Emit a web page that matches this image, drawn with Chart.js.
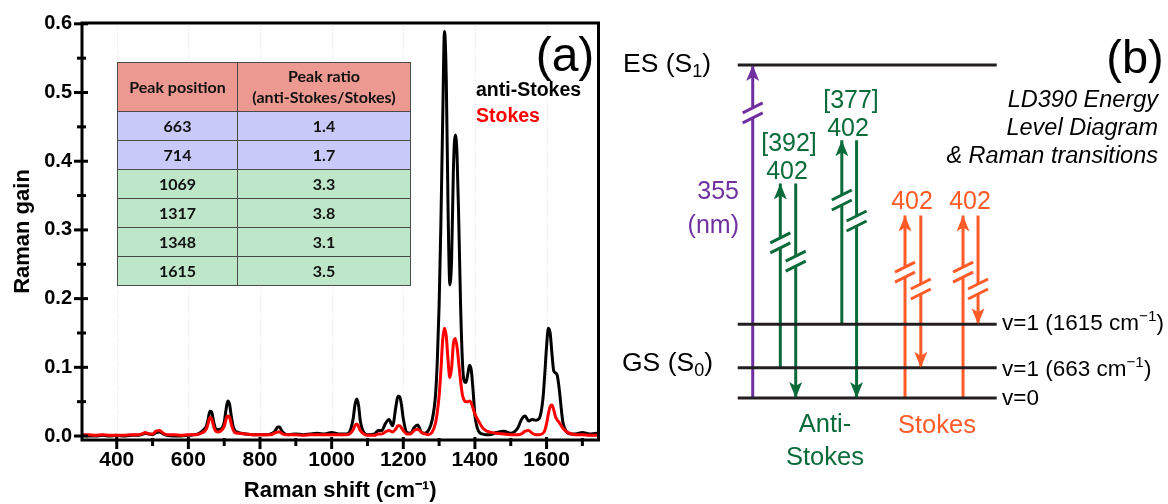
<!DOCTYPE html>
<html><head><meta charset="utf-8">
<script src="https://cdn.jsdelivr.net/npm/chart.js@4.4.1/dist/chart.umd.min.js"></script>
<style>
html,body{margin:0;padding:0;background:#fff;}
#wrap{position:relative;width:1168px;height:504px;overflow:hidden;font-family:"Liberation Sans",Arial,sans-serif;}
canvas{position:absolute;top:0;}
#ca{left:0;}
#cb{left:600px;}
.t{position:absolute;white-space:nowrap;line-height:1;}
.c{transform:translate(-50%,-50%);}
.l{transform:translate(0,-50%);}
.r{transform:translate(-100%,-50%);}
sub{font-size:0.68em;vertical-align:-0.28em;line-height:0;}
sup{font-size:0.68em;vertical-align:0.55em;line-height:0;}
#tbl{position:absolute;left:117px;top:62px;border-collapse:collapse;table-layout:fixed;width:293px;
  font-family:Lato,"Open Sans",sans-serif;font-weight:bold;font-size:16px;color:#111;}
#tbl td{border:1.5px solid #4a4a4a;text-align:center;padding:0;line-height:1.3;}
#tbl tr.h td{background:#EC9991;height:48px;}
#tbl tr.b td{background:#C9C9FA;height:28px;}
#tbl tr.g td{background:#BEE6C9;height:28px;}
.pur{color:#7030A0;} .grn{color:#0A6B3A;} .org{color:#FF5B29;}
</style>
</head><body>
<div id="wrap">
<canvas id="ca" width="610" height="504"></canvas>
<canvas id="cb" width="568" height="504"></canvas>
<table id="tbl"></table>
<div class="t c" style="left:565px;top:55px;font-size:48px;">(a)</div>
<div class="t l" id="lgA" style="left:476px;top:90px;font-size:19.5px;font-weight:bold;"></div>
<div class="t l" id="lgS" style="left:476px;top:116px;font-size:19.5px;font-weight:bold;"></div>

<div class="t l" style="left:623px;top:63px;font-size:26.5px;">ES (S<sub>1</sub>)</div>
<div class="t l" style="left:622px;top:362px;font-size:26.5px;">GS (S<sub>0</sub>)</div>
<div class="t r pur" style="left:739px;top:190px;font-size:25px;">355</div>
<div class="t r pur" style="left:739px;top:224px;font-size:25px;">(nm)</div>
<div class="t c grn" style="left:789px;top:142px;font-size:25px;">[392]</div>
<div class="t c grn" style="left:787px;top:170px;font-size:25px;">402</div>
<div class="t c grn" style="left:851px;top:99px;font-size:25px;">[377]</div>
<div class="t c grn" style="left:848px;top:127px;font-size:25px;">402</div>
<div class="t c org" style="left:912px;top:200px;font-size:25px;">402</div>
<div class="t c org" style="left:970px;top:200px;font-size:25px;">402</div>
<div class="t c grn" style="left:825px;top:424px;font-size:25.5px;">Anti-</div>
<div class="t c grn" style="left:825px;top:457px;font-size:25.5px;">Stokes</div>
<div class="t c org" style="left:937px;top:425px;font-size:25.5px;">Stokes</div>
<div class="t l" style="left:1002px;top:323px;font-size:22.5px;">v=1 (1615 cm<sup>&minus;1</sup>)</div>
<div class="t l" style="left:1002px;top:369px;font-size:22.5px;">v=1 (663 cm<sup>&minus;1</sup>)</div>
<div class="t l" style="left:1002px;top:398px;font-size:22.5px;">v=0</div>
<div class="t c" style="left:1135px;top:56px;font-size:47px;">(b)</div>
<div class="t r" style="left:1158px;top:100px;font-size:23.5px;font-style:italic;">LD390 Energy</div>
<div class="t r" style="left:1158px;top:128px;font-size:23.5px;font-style:italic;">Level Diagram</div>
<div class="t r" style="left:1158px;top:156px;font-size:23.5px;font-style:italic;">&amp; Raman transitions</div>
</div>
<script>
// ---------- Panel (a) data ----------
const ramanShift = [
 300,320,340,360,380,400,420,440,460,470,
 480,490,500,510,520,530,540,560,580,600,
 620,630,640,650,655,660,665,670,675,680,
 690,700,705,710,715,720,725,730,740,760,
 780,800,820,830,840,850,855,860,870,880,
 900,920,940,960,980,1000,1020,1040,1050,1060,
 1065,1070,1075,1080,1090,1100,1120,1130,1140,1150,
 1160,1170,1180,1185,1190,1195,1200,1210,1220,1230,
 1240,1250,1260,1270,1280,1290,1295,1300,1305,1310,
 1315,1320,1325,1330,1335,1340,1345,1350,1355,1360,
 1365,1370,1375,1380,1385,1390,1395,1400,1410,1420,
 1430,1440,1460,1480,1500,1510,1520,1530,1540,1550,
 1560,1570,1580,1590,1595,1600,1605,1610,1615,1620,
 1625,1630,1635,1640,1645,1650,1660,1670,1680,1700,
 1720,1740,1750];
const antiStokes = [
 .001,.000,.000,.001,.000,.001,.000,.001,.001,.002,
 .004,.003,.002,.005,.006,.003,.001,.000,.000,.001,
 .002,.004,.008,.014,.024,.036,.035,.022,.012,.009,
 .010,.020,.038,.051,.046,.028,.014,.008,.005,.003,
 .002,.002,.002,.003,.006,.013,.013,.008,.003,.002,
 .003,.002,.003,.004,.003,.005,.003,.003,.006,.025,
 .045,.054,.045,.022,.005,.002,.003,.008,.008,.018,
 .024,.015,.045,.058,.057,.045,.025,.005,.004,.012,
 .016,.006,.004,.008,.022,.060,.110,.190,.310,.460,
 .589,.520,.330,.220,.260,.390,.438,.410,.310,.190,
 .110,.080,.078,.090,.103,.095,.065,.030,.007,.003,
 .002,.002,.005,.007,.004,.006,.012,.024,.029,.022,
 .024,.023,.026,.055,.090,.130,.157,.150,.120,.095,
 .092,.088,.070,.045,.022,.012,.004,.003,.003,.005,
 .003,.004,.003];
const stokes = [
 .002,.002,.001,.002,.001,.001,.001,.002,.002,.003,
 .005,.003,.003,.007,.008,.004,.002,.002,.001,.002,
 .002,.003,.005,.010,.018,.027,.025,.015,.008,.006,
 .007,.014,.024,.029,.027,.017,.009,.005,.004,.003,
 .002,.002,.002,.002,.004,.006,.006,.004,.002,.002,
 .002,.001,.002,.002,.002,.002,.002,.002,.003,.009,
 .015,.0175,.014,.008,.003,.001,.001,.003,.003,.006,
 .008,.006,.011,.015,.015,.012,.008,.003,.003,.008,
 .010,.006,.003,.002,.005,.019,.035,.058,.095,.140,
 .157,.145,.110,.085,.100,.135,.142,.130,.105,.080,
 .060,.052,.050,.050,.051,.048,.040,.032,.022,.013,
 .008,.006,.004,.003,.002,.002,.002,.003,.007,.008,
 .004,.002,.002,.004,.008,.018,.032,.043,.045,.038,
 .028,.023,.020,.016,.012,.009,.005,.003,.002,.002,
 .001,.001,.001];
const xTickValues = [400,600,800,1000,1200,1400,1600];
const xMinorTicks = [500,700,900,1100,1300,1500,1700];
const yTickValues = [0,0.1,0.2,0.3,0.4,0.5,0.6];
const yMinorTicks = [0.05,0.15,0.25,0.35,0.45,0.55];
const seriesNames = ['anti-Stokes','Stokes'];
const seriesColors = ['#000000','#FF0000'];
// inset table
const tableHeader = ['Peak position','Peak ratio<br>(anti-Stokes/Stokes)'];
const peakPositions = ['663','714','1069','1317','1348','1615'];
const peakRatios = ['1.4','1.7','3.3','3.8','3.1','3.5'];
const peakGroup = ['b','b','g','g','g','g'];

// ---------- Panel (b) data (schematic energies, cm-1; ES axis broken) ----------
const levelEnergy = [7300,1615,663,0];
const levelSpan = [0,10];
const transX    = [0.58,1.645,2.24,4.02,4.59,6.46,7.07,8.70,9.28];
const transFrom = [0,663,4700,1615,5650,0,4000,0,4000];
const transTo   = [7300,4700,0,5650,0,4000,663,4000,1615];
const transBreak= [6250,3400,3000,4340,3880,2760,2390,2760,2390];
const transType = ['pump','aS','aS','aS','aS','S','S','S','S'];
const typeColor = {pump:'#7030A0', aS:'#0A6B3A', S:'#FF5B29'};

Chart.defaults.font.family = '"Liberation Sans", Arial, sans-serif';
Chart.defaults.color = '#000';

// table
(function(){
  const t = document.getElementById('tbl');
  let h = '<colgroup><col style="width:120px"><col style="width:173px"></colgroup>';
  h += '<tr class="h"><td>'+tableHeader[0]+'</td><td>'+tableHeader[1]+'</td></tr>';
  peakPositions.forEach((p,i)=>{ h += '<tr class="'+peakGroup[i]+'"><td>'+p+'</td><td>'+peakRatios[i]+'</td></tr>'; });
  t.innerHTML = h;
  const a = document.getElementById('lgA'); a.textContent = seriesNames[0]; a.style.color = seriesColors[0];
  const s = document.getElementById('lgS'); s.textContent = seriesNames[1]; s.style.color = seriesColors[1];
})();

const frameTicks = {
  id:'frameTicks',
  beforeDatasetsDraw(chart){
    const {ctx, chartArea:{top,bottom}, scales:{x}} = chart;
    ctx.save(); ctx.strokeStyle='#dedede'; ctx.lineWidth=1; ctx.setLineDash([1,2]);
    xTickValues.forEach(v=>{const px=Math.round(x.getPixelForValue(v))+0.5; ctx.beginPath(); ctx.moveTo(px,top); ctx.lineTo(px,bottom); ctx.stroke();});
    ctx.restore();
  },
  afterDraw(chart){
    const {ctx, chartArea:{left,right,top,bottom}, scales:{x,y}} = chart;
    ctx.save();
    ctx.strokeStyle='#000'; ctx.lineWidth=3; ctx.lineCap='butt';
    ctx.strokeRect(left,top,right-left,bottom-top);
    const seg=(x1,y1,x2,y2)=>{ctx.beginPath();ctx.moveTo(x1,y1);ctx.lineTo(x2,y2);ctx.stroke();};
    yTickValues.forEach(v=>{const p=y.getPixelForValue(v); seg(left-8,p,left+6,p);});
    yMinorTicks.forEach(v=>{const p=y.getPixelForValue(v); seg(left-5,p,left+4,p);});
    xTickValues.forEach(v=>{const p=x.getPixelForValue(v); seg(p,bottom-3,p,bottom+9);});
    xMinorTicks.forEach(v=>{const p=x.getPixelForValue(v); if(p<right) seg(p,bottom-2,p,bottom+6);});
    ctx.restore();
  }
};

new Chart(document.getElementById('ca'), {
  type:'line',
  data:{datasets:[
    {label:seriesNames[1], data:ramanShift.map((v,i)=>({x:v,y:stokes[i]})), borderColor:seriesColors[1], borderWidth:3, pointRadius:0, cubicInterpolationMode:'monotone', order:0},
    {label:seriesNames[0], data:ramanShift.map((v,i)=>({x:v,y:antiStokes[i]})), borderColor:seriesColors[0], borderWidth:3, pointRadius:0, cubicInterpolationMode:'monotone', order:1}
  ]},
  options:{
    responsive:false, animation:false, devicePixelRatio:1,
    layout:{padding:{top:23,right:11.5,bottom:0,left:0}},
    plugins:{legend:{display:false}, tooltip:{enabled:false}},
    scales:{
      x:{type:'linear', min:303, max:1745,
        afterBuildTicks:s=>{s.ticks = xTickValues.map(v=>({value:v}));},
        afterFit:s=>{s.height=64;},
        grid:{display:false, drawTicks:false}, border:{display:false},
        ticks:{font:{size:21,weight:'bold'}, padding:8, maxRotation:0, color:'#000', callback:v=>String(v)},
        title:{display:true, text:'Raman shift (cm\u207B\u00B9)', font:{size:22,weight:'bold'}, padding:{top:0,bottom:0}, color:'#000'}
      },
      y:{type:'linear', min:-0.0058, max:0.6012,
        afterBuildTicks:s=>{s.ticks = yTickValues.map(v=>({value:v}));},
        afterFit:s=>{s.width=82;},
        grid:{display:false, drawTicks:false}, border:{display:false},
        ticks:{font:{size:20,weight:'bold'}, padding:10, color:'#000', callback:v=>Number(v).toFixed(1)},
        title:{display:true, text:'Raman gain', font:{size:22,weight:'bold'}, padding:{top:10,bottom:0}, color:'#000'}
      }
    }
  },
  plugins:[frameTicks]
});

// ---------- Panel (b) ----------
const g = 110; // half gap at breaks (energy units)
const levelSets = levelEnergy.map(e=>({
  data:[{x:levelSpan[0],y:e},{x:levelSpan[1],y:e}], showLine:true, borderColor:'#231F20', borderWidth:3, pointRadius:0, clip:false
}));
const transSets = transX.map((xv,i)=>{
  const dir = transTo[i] > transFrom[i] ? 1 : -1;
  return {data:[{x:xv,y:transFrom[i]},{x:xv,y:transBreak[i]-dir*g},{x:xv,y:null},{x:xv,y:transBreak[i]+dir*g},{x:xv,y:transTo[i]}],
    showLine:true, spanGaps:false, borderColor:typeColor[transType[i]], borderWidth:3, pointRadius:0, clip:false};
});
const arrowDeco = {
  id:'arrowDeco',
  afterDatasetsDraw(chart){
    const {ctx, scales:{x,y}} = chart;
    ctx.save();
    transX.forEach((xv,i)=>{
      const col = typeColor[transType[i]];
      const px = x.getPixelForValue(xv);
      const pt = y.getPixelForValue(transTo[i]);
      const up = transTo[i] > transFrom[i];
      const d = up ? 1 : -1;
      ctx.fillStyle = col;
      ctx.beginPath();
      ctx.moveTo(px, pt);
      ctx.lineTo(px-6.5, pt + d*16);
      ctx.lineTo(px, pt + d*12);
      ctx.lineTo(px+6.5, pt + d*16);
      ctx.closePath(); ctx.fill();
      const pb = y.getPixelForValue(transBreak[i]);
      ctx.strokeStyle = col; ctx.lineWidth = 3; ctx.lineCap='butt';
      [-5,5].forEach(o=>{
        ctx.beginPath(); ctx.moveTo(px-10, pb+o+5); ctx.lineTo(px+10, pb+o-5); ctx.stroke();
      });
    });
    ctx.restore();
  }
};
new Chart(document.getElementById('cb'), {
  type:'scatter',
  data:{datasets:[...levelSets, ...transSets]},
  options:{
    responsive:false, animation:false, devicePixelRatio:1,
    layout:{padding:{left:137.7, right:171.3, top:65, bottom:106}},
    plugins:{legend:{display:false}, tooltip:{enabled:false}},
    scales:{
      x:{type:'linear', display:false, min:levelSpan[0], max:levelSpan[1]},
      y:{type:'linear', display:false, min:0, max:7300}
    }
  },
  plugins:[arrowDeco]
});
</script>
</body></html>
